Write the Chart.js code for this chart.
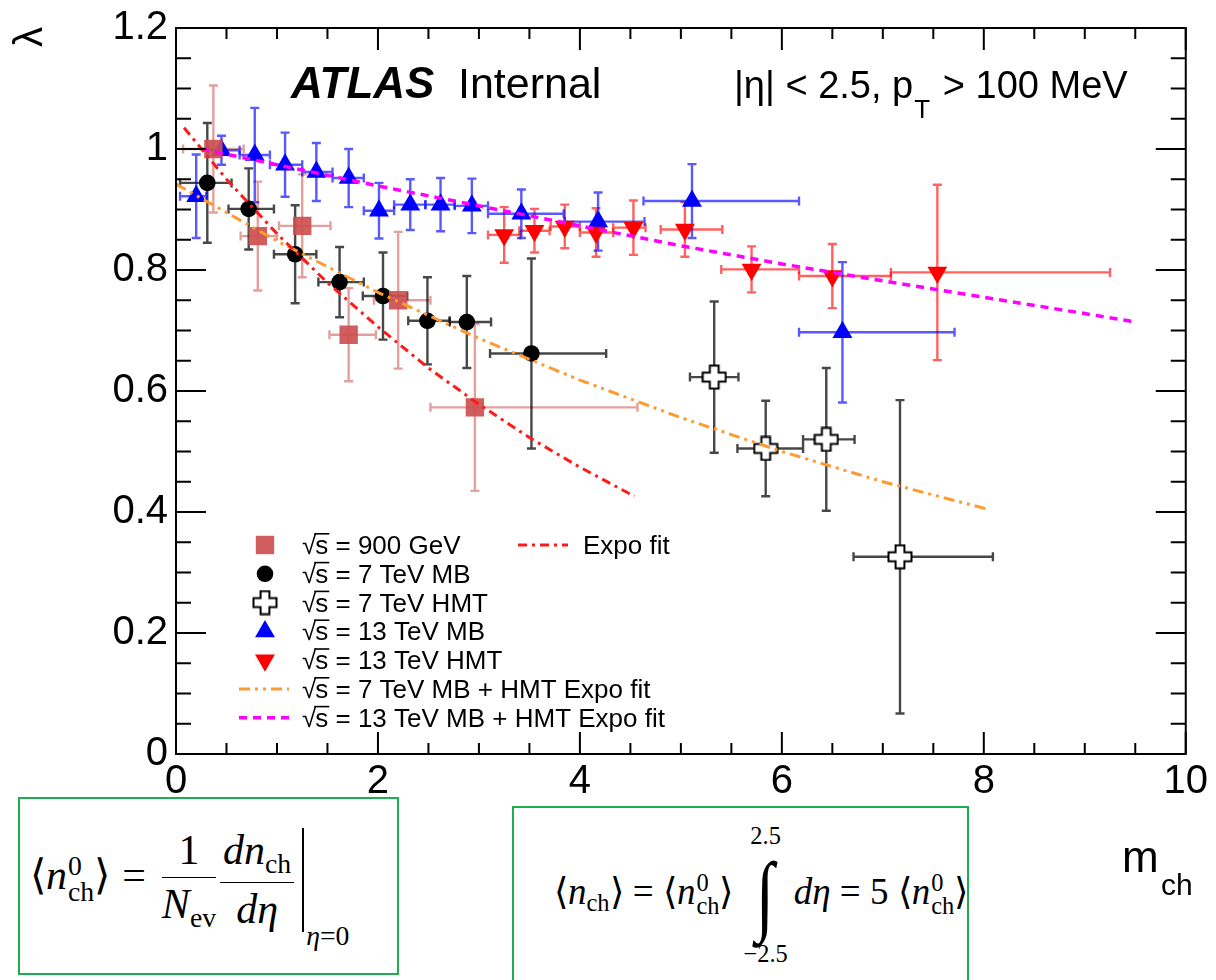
<!DOCTYPE html>
<html>
<head>
<meta charset="utf-8">
<script src="https://cdn.jsdelivr.net/npm/chart.js@4.4.1/dist/chart.umd.min.js"></script>
<style>
  html, body { margin: 0; padding: 0; background: #fff; }
  body { width: 1216px; height: 980px; position: relative; overflow: hidden; }
  #lambdaChart { position: absolute; left: 0; top: 0; }
  .box { position: absolute; box-sizing: border-box; border: 2px solid #1fae4f; background: #fff;
         font-family: "Liberation Serif", "Times New Roman", serif; color: #000; white-space: nowrap;
         display: flex; align-items: center; }
  #box1 { left: 18px; top: 797px; width: 381px; height: 178px; font-size: 42px; padding-left: 10px; padding-top: 6px; }
  #box2 { left: 512px; top: 806px; width: 457px; height: 190px; font-size: 37px; padding-left: 40px; padding-bottom: 12px; }
  .eq i { font-style: italic; }
  .ss { display: inline-block; vertical-align: -0.42em; font-size: 0.66em; line-height: 0.95; text-align: left; margin-left: 1px; }
  .ss span { display: block; }
  .sb { font-size: 0.66em; vertical-align: -0.32em; }
  .op { margin: 0 14px 0 12px; }
  .frac { display: inline-block; vertical-align: middle; text-align: center; line-height: 1.15; margin: 0 2px; }
  .frac .num { display: block; border-bottom: 1.6px solid #000; padding: 0 3px 2px 3px; }
  .frac .den { display: block; padding-top: 2px; }
  .evalbar { display: inline-block; width: 0; height: 104px; border-left: 2px solid #000; vertical-align: middle; margin: 0 2px 0 6px; }
  .evsub { font-size: 0.66em; vertical-align: -2.0em; }
  .int { display: inline-block; vertical-align: middle; text-align: center; line-height: 1; margin: 0 6px 0 10px; }
  .int .lim { display: block; font-size: 0.66em; }
  .int .isign { display: block; font-size: 2.4em; line-height: 1.05; transform: scaleX(0.75); }
</style>
</head>
<body>
<canvas id="lambdaChart" width="1216" height="980"></canvas>

<div class="box" id="box1"><div class="eq">⟨<i>n</i><span class="ss"><span>0</span><span>ch</span></span>⟩<span class="op">=</span><span class="frac"><span class="num">1</span><span class="den"><i>N</i><span class="sb">ev</span></span></span><span class="frac"><span class="num"><i>dn</i><span class="sb">ch</span></span><span class="den"><i>dη</i></span></span><span class="evalbar"></span><span class="evsub"><i>η</i>=0</span></div></div>

<div class="box" id="box2"><div class="eq">⟨<i>n</i><span class="sb">ch</span>⟩ = ⟨<i>n</i><span class="ss"><span>0</span><span>ch</span></span>⟩<span class="int"><span class="lim">2.5</span><span class="isign">∫</span><span class="lim">−2.5</span></span><i>dη</i> = 5 ⟨<i>n</i><span class="ss"><span>0</span><span>ch</span></span>⟩</div></div>

<script>
// ─────────────────────────────────────────────────────────────
//  lambda vs m_ch — ATLAS Internal, |eta| < 2.5, pT > 100 MeV
//  points + asymmetric x errors + symmetric y errors, three expo fits
// ─────────────────────────────────────────────────────────────

var xTickLabels = ['0', '2', '4', '6', '8', '10'];
var yTickLabels = ['0', '0.2', '0.4', '0.6', '0.8', '1', '1.2'];

// √s = 900 GeV
var gev900X   = [0.37, 0.81, 1.25, 1.71, 2.20, 2.96];
var gev900Y   = [1.000, 0.856, 0.873, 0.693, 0.750, 0.573];
var gev900ExL = [0.30, 0.17, 0.23, 0.19, 0.24, 0.44];
var gev900ExH = [0.30, 0.19, 0.28, 0.27, 0.32, 1.61];
var gev900Ey  = [0.105, 0.090, 0.085, 0.077, 0.113, 0.138];

// √s = 7 TeV MB
var mb7X   = [0.31, 0.72, 1.18, 1.62, 2.05, 2.49, 2.88, 3.52];
var mb7Y   = [0.944, 0.901, 0.826, 0.780, 0.757, 0.716, 0.714, 0.662];
var mb7ExL = [0.27, 0.20, 0.21, 0.21, 0.20, 0.19, 0.17, 0.41];
var mb7ExH = [0.24, 0.25, 0.21, 0.24, 0.24, 0.22, 0.24, 0.74];
var mb7Ey  = [0.099, 0.067, 0.081, 0.058, 0.072, 0.072, 0.076, 0.157];

// √s = 7 TeV HMT
var hmt7X   = [5.33, 5.84, 6.44, 7.17];
var hmt7Y   = [0.623, 0.505, 0.520, 0.326];
var hmt7ExL = [0.24, 0.28, 0.23, 0.46];
var hmt7ExH = [0.24, 0.37, 0.28, 0.92];
var hmt7Ey  = [0.125, 0.079, 0.118, 0.259];

// √s = 13 TeV MB
var mb13X   = [0.20, 0.45, 0.78, 1.08, 1.39, 1.71, 2.01, 2.32, 2.62, 2.93, 3.42, 4.18, 5.11, 6.60];
var mb13Y   = [0.922, 0.998, 0.990, 0.974, 0.962, 0.952, 0.898, 0.908, 0.908, 0.906, 0.893, 0.880, 0.914, 0.697];
var mb13ExL = [0.16, 0.13, 0.15, 0.15, 0.14, 0.16, 0.15, 0.16, 0.15, 0.17, 0.33, 0.33, 0.48, 0.43];
var mb13ExH = [0.10, 0.18, 0.15, 0.17, 0.16, 0.15, 0.15, 0.15, 0.14, 0.16, 0.42, 0.46, 1.06, 1.11];
var mb13Ey  = [0.069, 0.024, 0.078, 0.053, 0.048, 0.048, 0.046, 0.042, 0.044, 0.045, 0.040, 0.048, 0.061, 0.116];

// √s = 13 TeV HMT
var hmt13X   = [3.25, 3.55, 3.85, 4.16, 4.53, 5.04, 5.70, 6.50, 7.54];
var hmt13Y   = [0.858, 0.865, 0.872, 0.862, 0.870, 0.867, 0.801, 0.790, 0.796];
var hmt13ExL = [0.16, 0.15, 0.14, 0.16, 0.20, 0.24, 0.30, 0.33, 0.46];
var hmt13ExH = [0.16, 0.15, 0.15, 0.17, 0.12, 0.37, 0.47, 0.58, 1.71];
var hmt13Ey  = [0.046, 0.036, 0.036, 0.040, 0.045, 0.045, 0.038, 0.053, 0.145];

// fit curves
var fit900X = [0.08, 0.5, 1.0, 1.5, 2.0, 2.5, 3.0, 3.5, 4.0, 4.54];
var fit900Y = [1.035, 0.950, 0.860, 0.779, 0.706, 0.638, 0.578, 0.523, 0.474, 0.426];
var fit7X   = [0.0, 1.0, 2.0, 3.0, 4.0, 5.0, 6.0, 7.0, 8.03];
var fit7Y   = [0.942, 0.848, 0.763, 0.687, 0.618, 0.556, 0.500, 0.450, 0.405];
var fit13X  = [0.25, 1.0, 2.0, 3.0, 4.0, 5.0, 6.0, 7.0, 8.0, 9.0, 9.47];
var fit13Y  = [1.000, 0.974, 0.939, 0.906, 0.873, 0.840, 0.810, 0.782, 0.755, 0.728, 0.715];

function pts(xs, ys) {
  return xs.map(function(x, i){ return {x: x, y: ys[i]}; });
}

// open cross marker (ROOT style 28)
function makeCross(size) {
  var c = document.createElement('canvas');
  c.width = size; c.height = size;
  var g = c.getContext('2d');
  var m = size / 2, a = size * 0.17, e = size / 2 - 1.5;
  g.beginPath();
  g.moveTo(m - a, m - e); g.lineTo(m + a, m - e); g.lineTo(m + a, m - a); g.lineTo(m + e, m - a);
  g.lineTo(m + e, m + a); g.lineTo(m + a, m + a); g.lineTo(m + a, m + e); g.lineTo(m - a, m + e);
  g.lineTo(m - a, m + a); g.lineTo(m - e, m + a); g.lineTo(m - e, m - a); g.lineTo(m - a, m - a);
  g.closePath();
  g.fillStyle = '#fff'; g.fill();
  g.lineWidth = 2; g.strokeStyle = '#000'; g.stroke();
  return c;
}
var crossImg = makeCross(26);

function fitSet(label, xs, ys, color, dash, width) {
  return {
    label: label, data: pts(xs, ys), showLine: true, fill: false,
    borderColor: color, borderWidth: width, borderDash: dash,
    pointRadius: 0, tension: 0
  };
}

function markerSet(label, xs, ys, exl, exh, ey, style) {
  return Object.assign({
    label: label, data: pts(xs, ys),
    errors: {xlo: exl, xhi: exh, y: ey},
    borderWidth: 0, pointBorderWidth: 0, showLine: false
  }, style);
}

var datasets = [
  fitSet('Expo fit', fit900X, fit900Y, '#ff1a1a', [9, 5, 3, 5], 3),
  fitSet('√s = 7 TeV MB + HMT Expo fit', fit7X, fit7Y, '#ff9a30', [11, 5, 3, 5, 3, 5], 3),
  fitSet('√s = 13 TeV MB + HMT Expo fit', fit13X, fit13Y, '#ff00ff', [8, 6], 3.5),
  markerSet('√s = 900 GeV', gev900X, gev900Y, gev900ExL, gev900ExH, gev900Ey,
    {pointStyle: 'rect', pointRadius: 13, backgroundColor: 'rgba(205,80,80,0.92)', borderColor: 'rgba(205,80,80,0.92)', errorColor: 'rgba(205,80,80,0.55)'}),
  markerSet('√s = 7 TeV MB', mb7X, mb7Y, mb7ExL, mb7ExH, mb7Ey,
    {pointStyle: 'circle', pointRadius: 8.3, backgroundColor: '#000', borderColor: '#000', errorColor: 'rgba(0,0,0,0.72)'}),
  markerSet('√s = 7 TeV HMT', hmt7X, hmt7Y, hmt7ExL, hmt7ExH, hmt7Ey,
    {pointStyle: crossImg, pointRadius: 13, backgroundColor: '#fff', borderColor: '#000', errorColor: 'rgba(0,0,0,0.72)'}),
  markerSet('√s = 13 TeV HMT', hmt13X, hmt13Y, hmt13ExL, hmt13ExH, hmt13Ey,
    {pointStyle: 'triangle', pointRotation: 180, rotation: 180, pointRadius: 11.5, backgroundColor: '#ff0000', borderColor: '#ff0000', errorColor: 'rgba(255,0,0,0.62)'}),
  markerSet('√s = 13 TeV MB', mb13X, mb13Y, mb13ExL, mb13ExH, mb13Ey,
    {pointStyle: 'triangle', pointRadius: 11.5, backgroundColor: '#0000ff', borderColor: '#0000ff', errorColor: 'rgba(0,0,255,0.65)'})
];

// error bars with end caps, drawn under the markers
var errorBars = {
  id: 'errorBars',
  beforeDatasetsDraw: function(chart) {
    var ctx = chart.ctx, xs = chart.scales.x, ys = chart.scales.y;
    var cap = 4.5;
    ctx.save();
    ctx.lineWidth = 2.4;
    chart.data.datasets.forEach(function(ds){
      if (!ds.errors) return;
      ctx.strokeStyle = ds.errorColor;
      ds.data.forEach(function(p, j){
        var cx = xs.getPixelForValue(p.x), cy = ys.getPixelForValue(p.y);
        var x0 = xs.getPixelForValue(p.x - ds.errors.xlo[j]);
        var x1 = xs.getPixelForValue(p.x + ds.errors.xhi[j]);
        var y0 = ys.getPixelForValue(p.y - ds.errors.y[j]);
        var y1 = ys.getPixelForValue(p.y + ds.errors.y[j]);
        ctx.beginPath();
        ctx.moveTo(x0, cy); ctx.lineTo(x1, cy);
        ctx.moveTo(x0, cy - cap); ctx.lineTo(x0, cy + cap);
        ctx.moveTo(x1, cy - cap); ctx.lineTo(x1, cy + cap);
        ctx.moveTo(cx, y0); ctx.lineTo(cx, y1);
        ctx.moveTo(cx - cap, y0); ctx.lineTo(cx + cap, y0);
        ctx.moveTo(cx - cap, y1); ctx.lineTo(cx + cap, y1);
        ctx.stroke();
      });
    });
    ctx.restore();
  }
};

function isMultiple(v, step) {
  var k = v / step;
  return Math.abs(k - Math.round(k)) < 1e-6;
}

// ROOT-style frame with inward ticks on all four sides
var frameTicks = {
  id: 'frameTicks',
  afterDatasetsDraw: function(chart) {
    var ctx = chart.ctx, a = chart.chartArea, xs = chart.scales.x, ys = chart.scales.y;
    ctx.save();
    ctx.strokeStyle = '#000';
    ctx.lineWidth = 2;
    ctx.strokeRect(a.left, a.top, a.right - a.left, a.bottom - a.top);
    ctx.beginPath();
    xs.ticks.forEach(function(t){
      var px = xs.getPixelForValue(t.value);
      var len = isMultiple(t.value, 2) ? 22 : 11;
      ctx.moveTo(px, a.bottom); ctx.lineTo(px, a.bottom - len);
      ctx.moveTo(px, a.top);    ctx.lineTo(px, a.top + len);
    });
    ys.ticks.forEach(function(t){
      var py = ys.getPixelForValue(t.value);
      var len = isMultiple(t.value, 0.2) ? 30 : 15;
      ctx.moveTo(a.left, py);  ctx.lineTo(a.left + len, py);
      ctx.moveTo(a.right, py); ctx.lineTo(a.right - len, py);
    });
    ctx.stroke();
    ctx.restore();
  }
};

function drawRootS(ctx, label, x, y) {
  // label starts with "√s": draw the bar over the s by hand
  var rest = label.slice(2);
  ctx.fillText('√', x, y);
  var w1 = ctx.measureText('√').width;
  ctx.fillText('s', x + w1 - 1, y);
  var w2 = ctx.measureText('s').width;
  ctx.fillRect(x + w1 - 2, y - 21, w2 + 2, 1.6);
  ctx.fillText(rest, x + w1 + w2 - 1, y);
}

function drawLegendKey(ctx, ds, x, y) {
  if (ds.showLine) {
    ctx.save();
    ctx.strokeStyle = ds.borderColor;
    ctx.lineWidth = ds.borderWidth;
    ctx.setLineDash(ds.borderDash || []);
    ctx.beginPath(); ctx.moveTo(x - 26, y); ctx.lineTo(x + 24, y); ctx.stroke();
    ctx.restore();
    return;
  }
  ctx.save();
  ctx.fillStyle = ds.backgroundColor;
  ctx.strokeStyle = ds.borderColor;
  Chart.helpers.drawPoint(ctx, {pointStyle: ds.pointStyle, rotation: ds.pointRotation || 0,
    radius: ds.pointRadius, borderWidth: 0}, x, y);
  ctx.restore();
}

var annotations = {
  id: 'annotations',
  afterDraw: function(chart) {
    var ctx = chart.ctx;
    var sets = chart.data.datasets;
    ctx.save();
    ctx.fillStyle = '#000';

    // y title
    ctx.save();
    ctx.translate(31, 37);
    ctx.rotate(-Math.PI / 2);
    ctx.font = '40px "Liberation Sans"';
    ctx.textAlign = 'center';
    ctx.textBaseline = 'middle';
    ctx.fillText('λ', 0, 0);
    ctx.restore();

    ctx.textBaseline = 'alphabetic';
    ctx.textAlign = 'left';
    ctx.font = 'italic bold 44px "Liberation Sans"';
    ctx.fillText('ATLAS', 291, 98);
    ctx.font = '43px "Liberation Sans"';
    ctx.fillText('Internal', 458, 98);

    ctx.font = '38px "Liberation Sans"';
    var part1 = '|η| < 2.5, p';
    ctx.fillText(part1, 734, 98);
    var w = ctx.measureText(part1).width;
    ctx.font = '26px "Liberation Sans"';
    ctx.fillText('T', 734 + w + 1, 118);
    ctx.font = '38px "Liberation Sans"';
    ctx.fillText(' > 100 MeV', 734 + w + 19, 98);

    // x title m_ch
    ctx.font = '44px "Liberation Sans"';
    ctx.fillText('m', 1122, 872);
    ctx.font = '30px "Liberation Sans"';
    ctx.fillText('ch', 1161, 895);

    // legend
    var rows = [3, 4, 5, 7, 6, 1, 2];
    ctx.font = '26px "Liberation Sans"';
    rows.forEach(function(idx, i){
      var y = 545 + i * 28.8;
      drawLegendKey(ctx, sets[idx], 265, y);
      ctx.fillStyle = '#000';
      drawRootS(ctx, sets[idx].label, 302, y + 9);
    });
    drawLegendKey(ctx, sets[0], 544, 545);
    ctx.fillStyle = '#000';
    ctx.fillText(sets[0].label, 583, 554);
    ctx.restore();
  }
};

var tickFont = {family: '"Liberation Sans", Arial, sans-serif', size: 40, lineHeight: 1};

new Chart(document.getElementById('lambdaChart').getContext('2d'), {
  type: 'scatter',
  data: { datasets: datasets },
  options: {
    responsive: false,
    animation: false,
    events: [],
    layout: { padding: { top: 24, right: 25, left: 0, bottom: 0 } },
    plugins: { legend: { display: false }, tooltip: { enabled: false } },
    scales: {
      x: {
        type: 'linear', min: 0, max: 10,
        afterFit: function(s){ s.height = 226; },
        grid: { display: false, drawTicks: false },
        border: { display: false },
        ticks: {
          stepSize: 0.5, autoSkip: false, maxRotation: 0, padding: 8,
          color: '#000', font: tickFont,
          callback: function(v){ return isMultiple(v, 2) ? xTickLabels[Math.round(v / 2)] : ''; }
        }
      },
      y: {
        type: 'linear', min: 0, max: 1.2,
        afterFit: function(s){ s.width = 176; },
        grid: { display: false, drawTicks: false },
        border: { display: false },
        ticks: {
          stepSize: 0.05, autoSkip: false, padding: 8,
          color: '#000', font: tickFont,
          callback: function(v){ return isMultiple(v, 0.2) ? yTickLabels[Math.round(v / 0.2)] : ''; }
        }
      }
    }
  },
  plugins: [errorBars, frameTicks, annotations]
});
</script>
</body>
</html>
